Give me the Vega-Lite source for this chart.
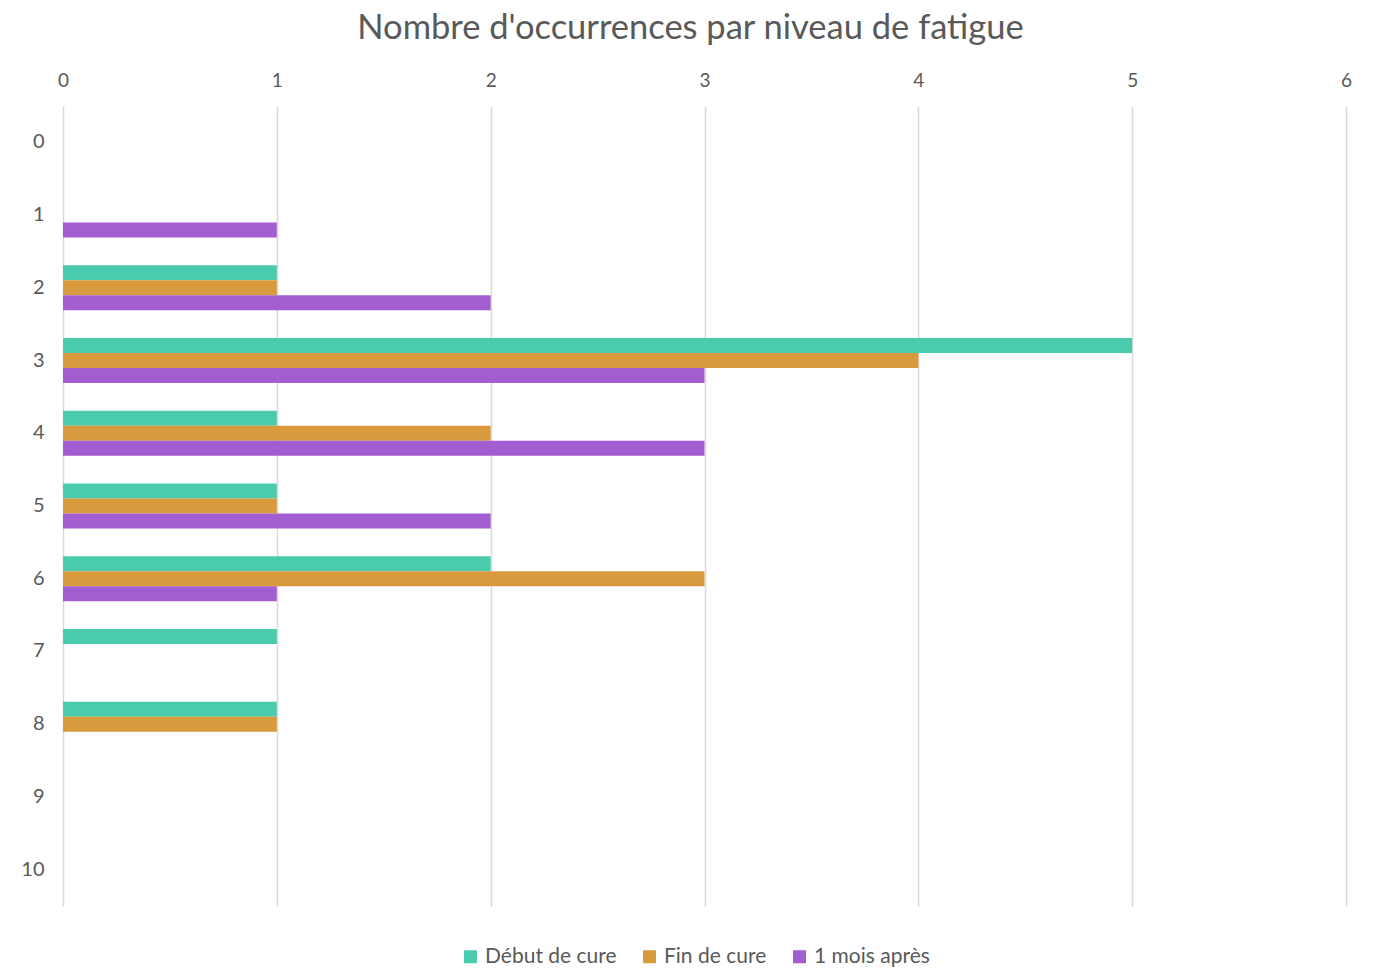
{
  "$schema": "https://vega.github.io/schema/vega-lite/v6.json",
  "width": 1283,
  "height": 800,
  "autosize": {"type": "none"},
  "padding": {"left": 63, "top": 106, "right": 28, "bottom": 63},
  "background": "white",
  "title": {
    "text": "Nombre d'occurrences par niveau de fatigue",
    "font": "Lato",
    "fontSize": 34.5,
    "fontWeight": "normal",
    "color": "#595959",
    "anchor": "middle",
    "dx": -14,
    "offset": 25
  },
  "config": {
    "view": {"stroke": null},
    "font": "Lato"
  },
  "data": {
    "values": [
      {"niveau": "1", "serie": "1 mois après", "n": 1},
      {"niveau": "2", "serie": "Début de cure", "n": 1},
      {"niveau": "2", "serie": "Fin de cure", "n": 1},
      {"niveau": "2", "serie": "1 mois après", "n": 2},
      {"niveau": "3", "serie": "Début de cure", "n": 5},
      {"niveau": "3", "serie": "Fin de cure", "n": 4},
      {"niveau": "3", "serie": "1 mois après", "n": 3},
      {"niveau": "4", "serie": "Début de cure", "n": 1},
      {"niveau": "4", "serie": "Fin de cure", "n": 2},
      {"niveau": "4", "serie": "1 mois après", "n": 3},
      {"niveau": "5", "serie": "Début de cure", "n": 1},
      {"niveau": "5", "serie": "Fin de cure", "n": 1},
      {"niveau": "5", "serie": "1 mois après", "n": 2},
      {"niveau": "6", "serie": "Début de cure", "n": 2},
      {"niveau": "6", "serie": "Fin de cure", "n": 3},
      {"niveau": "6", "serie": "1 mois après", "n": 1},
      {"niveau": "7", "serie": "Début de cure", "n": 1},
      {"niveau": "8", "serie": "Début de cure", "n": 1},
      {"niveau": "8", "serie": "Fin de cure", "n": 1}
    ]
  },
  "mark": {"type": "bar"},
  "encoding": {
    "y": {
      "field": "niveau",
      "type": "nominal",
      "scale": {
        "domain": ["0","1","2","3","4","5","6","7","8","9","10"],
        "paddingInner": 0.381,
        "paddingOuter": 0.19
      },
      "axis": {
        "title": null,
        "domain": false,
        "ticks": false,
        "labelPadding": 19,
        "labelFontSize": 20,
        "labelColor": "#595959",
        "labelFont": "Lato"
      }
    },
    "yOffset": {
      "field": "serie",
      "type": "nominal",
      "scale": {"domain": ["Début de cure", "Fin de cure", "1 mois après"], "paddingInner": 0, "paddingOuter": 0}
    },
    "x": {
      "field": "n",
      "type": "quantitative",
      "scale": {"domain": [0, 6], "nice": false},
      "axis": {
        "orient": "top",
        "title": null,
        "domain": false,
        "ticks": false,
        "values": [0,1,2,3,4,5,6],
        "labelOverlap": false,
        "labelFlush": false,
        "labelPadding": 16,
        "labelFontSize": 19,
        "labelColor": "#595959",
        "labelFont": "Lato",
        "format": "d",
        "grid": true,
        "gridColor": "#D9D9D9",
        "gridWidth": 1.5
      }
    },
    "color": {
      "field": "serie",
      "type": "nominal",
      "scale": {
        "domain": ["Début de cure", "Fin de cure", "1 mois après"],
        "range": ["#4BCBAD", "#D99A3E", "#A25ED1"]
      },
      "legend": {
        "title": null,
        "orient": "none",
        "legendX": 397,
        "legendY": 840,
        "direction": "horizontal",
        "symbolType": "square",
        "symbolSize": 169,
        "symbolStrokeWidth": 0,
        "labelFontSize": 21,
        "labelColor": "#595959",
        "labelFont": "Lato",
        "labelOffset": 4,
        "columnPadding": 22
      }
    }
  }
}
